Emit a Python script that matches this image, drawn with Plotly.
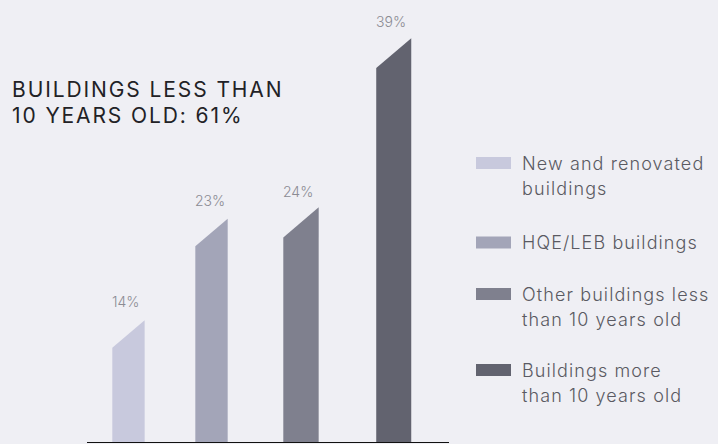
import plotly.graph_objects as go

# --- data ---
categories = [
    "New and renovated buildings",
    "HQE/LEB buildings",
    "Other buildings less than 10 years old",
    "Buildings more than 10 years old",
]
shares = [14, 23, 24, 39]
value_labels = ["14%", "23%", "24%", "39%"]
legend_lines = [
    ["New and renovated", "buildings"],
    ["HQE/LEB buildings"],
    ["Other buildings less", "than 10 years old"],
    ["Buildings more", "than 10 years old"],
]
title_lines = ["BUILDINGS LESS THAN", "10 YEARS OLD: 61%"]

# --- styling / layout ---
colors = ["#c8c9dd", "#a3a5b8", "#7f808e", "#62636f"]
BG = "#efeff4"
W, H = 718, 444
slots = [0, 0.939, 1.951, 3.0]          # bar centres along x
widths = [0.366, 0.366, 0.40, 0.396]    # bar widths in x units
x_range = [-0.469, 3.625]
y_range = [3.2, 42.38]
plot_left, plot_right, plot_bottom = 87, 449, 442

px_per_x = (plot_right - plot_left) / (x_range[1] - x_range[0])
px_per_y = plot_bottom / (y_range[1] - y_range[0])

FONT = "Inter"


def spaced(text, px):
    return f'<span style="letter-spacing:{px}px">{text}</span>'


fig = go.Figure()

annotations = []
for c, w, v, col, lab in zip(slots, widths, shares, colors, value_labels):
    # bevelled top: the left corner sits lower than the right one
    slant = 0.85 * w * px_per_x / px_per_y
    x0, x1 = c - w / 2, c + w / 2
    fig.add_trace(go.Scatter(
        x=[x0, x0, x1, x1, x0],
        y=[0, v - slant, v, 0, 0],
        mode="lines", fill="toself", fillcolor=col,
        line=dict(width=0, color=col),
        hoverinfo="skip", showlegend=False,
    ))
    annotations.append(dict(
        x=x0, y=v - slant, xref="x", yref="y", text=lab, showarrow=False,
        xanchor="left", yanchor="middle", yshift=46, xshift=-2,
        font=dict(family=FONT, size=14, color="#8b8b93", weight=300),
    ))

# title block
title_y = [89, 115]
for t, yc in zip(title_lines, title_y):
    annotations.append(dict(
        x=12 / W, y=1 - yc / H, xref="paper", yref="paper", text=spaced(t, 1.9),
        showarrow=False, xanchor="left", yanchor="middle", xshift=-2,
        font=dict(family=FONT, size=21, color="#222226", weight=400),
    ))

# custom legend
shapes = []
rect_centres = [163, 242.5, 294, 370]
for col, lines, yc in zip(colors, legend_lines, rect_centres):
    shapes.append(dict(
        type="rect", xref="paper", yref="paper",
        x0=476 / W, x1=511 / W, y0=1 - (yc - 6) / H, y1=1 - (yc + 6) / H,
        fillcolor=col, line=dict(width=0),
    ))
    for i, line in enumerate(lines):
        annotations.append(dict(
            x=520 / W, y=1 - (yc + 25 * i) / H, xref="paper", yref="paper",
            text=spaced(line, 1.1), showarrow=False, xanchor="left", yanchor="middle",
            font=dict(family=FONT, size=18, color="#5a5a62", weight=300),
        ))

fig.update_layout(
    width=W, height=H,
    margin=dict(l=0, r=0, t=0, b=0),
    paper_bgcolor=BG, plot_bgcolor=BG,
    xaxis=dict(domain=[plot_left / W, plot_right / W], range=x_range,
               showgrid=False, zeroline=False, showticklabels=False,
               showline=True, linecolor="#111111", linewidth=1, ticks=""),
    yaxis=dict(domain=[1 - plot_bottom / H, 1], range=y_range,
               showgrid=False, zeroline=False, showticklabels=False,
               showline=False, ticks=""),
    annotations=annotations,
    shapes=shapes,
    showlegend=False,
)

fig.write_html("out.html")
